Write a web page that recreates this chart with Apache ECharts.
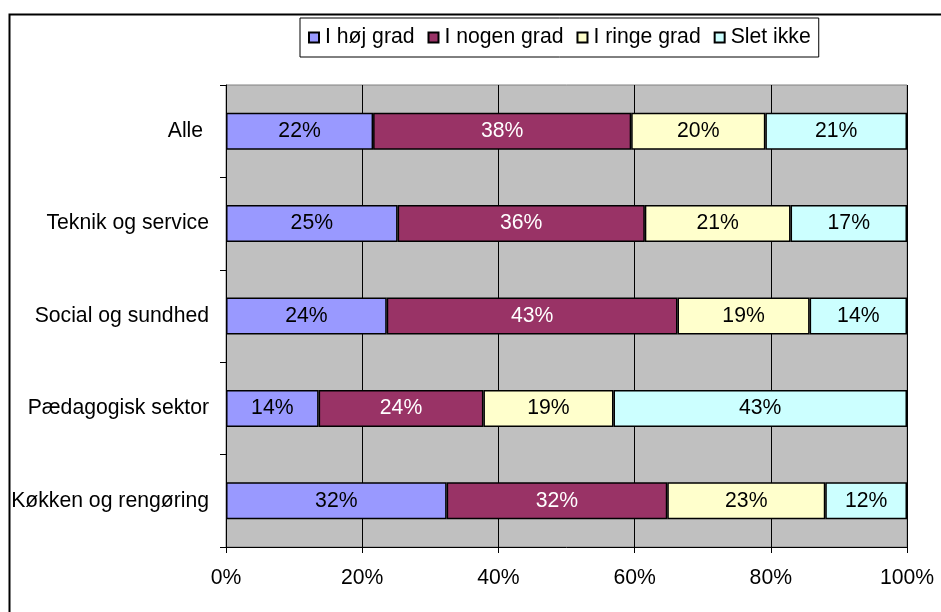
<!DOCTYPE html>
<html>
<head>
<meta charset="utf-8">
<script src="https://cdn.jsdelivr.net/npm/echarts@6/dist/echarts.min.js"></script>
<style>
html,body{margin:0;padding:0;background:#fff;}
#chart{width:941px;height:612px;}
</style>
</head>
<body>
<div id="chart"></div>
<script>
const categories = ["Alle ", "Teknik og service", "Social og sundhed", "Pædagogisk sektor", "Køkken og rengøring"];
const seriesNames = ["I høj grad", "I nogen grad", "I ringe grad", "Slet ikke"];
const hojGrad   = [21.6, 25.2, 23.6, 13.6, 32.4];
const nogenGrad = [37.9, 36.3, 42.7, 24.2, 32.4];
const ringeGrad = [19.7, 21.4, 19.4, 19.1, 23.2];
const sletIkke  = [20.8, 17.1, 14.3, 43.1, 12.0];
const xTicks = [0, 20, 40, 60, 80, 100];

const colors = ["#9999FF", "#993366", "#FFFFCC", "#CCFFFF"];
const labelColors = ["#000", "#fff", "#000", "#000"];
const font = "'Liberation Sans', Arial, sans-serif";
const fs = 21.2;
const allData = [hojGrad, nogenGrad, ringeGrad, sletIkke];

const chart = echarts.init(document.getElementById('chart'), null, {renderer: 'canvas'});
chart.setOption({
  animation: false,
  backgroundColor: '#fff',
  textStyle: {fontFamily: font},
  graphic: [{
    type: 'rect', left: 7, top: 12, silent: true, z: -1,
    shape: {width: 1000, height: 700},
    style: {fill: 'none', stroke: '#000', lineWidth: 2}
  }],
  legend: {
    left: 300, top: 18,
    padding: [9, 8, 9, 8],
    itemGap: 13,
    itemWidth: 10, itemHeight: 10,
    borderColor: '#000', borderWidth: 1,
    textStyle: {fontFamily: font, fontSize: fs, color: '#000', padding: [0, 0, 0, 1]},
    icon: 'rect',
    data: seriesNames
  },
  grid: {
    left: 226, right: 34, top: 85, bottom: 65,
    show: true, backgroundColor: '#C0C0C0', borderColor: '#808080', borderWidth: 1
  },
  xAxis: {
    type: 'value', min: 0, max: 100, interval: 20,
    axisLine: {show: true, lineStyle: {color: '#000', width: 1}},
    axisTick: {show: true, length: 6, lineStyle: {color: '#000'}},
    splitLine: {show: true, lineStyle: {color: '#000', width: 1}},
    axisLabel: {
      margin: 21, fontSize: fs, color: '#000', fontFamily: font,
      formatter: v => xTicks.includes(v) ? v + '%' : ''
    }
  },
  yAxis: {
    type: 'category', inverse: true, data: categories,
    axisLine: {show: true, lineStyle: {color: '#000', width: 1}},
    axisTick: {show: true, length: 6, lineStyle: {color: '#000'}},
    axisLabel: {margin: 17, fontSize: fs, color: '#000', fontFamily: font},
    splitLine: {show: false}
  },
  series: allData.map((d, i) => ({
    name: seriesNames[i],
    type: 'bar',
    stack: 'total',
    data: d,
    barWidth: 37,
    itemStyle: {color: colors[i], borderColor: '#000', borderWidth: 1.5},
    label: {
      show: true, position: 'inside',
      fontSize: fs, fontFamily: font, color: labelColors[i],
      formatter: p => Math.round(p.value) + '%'
    }
  }))
});
</script>
</body>
</html>
